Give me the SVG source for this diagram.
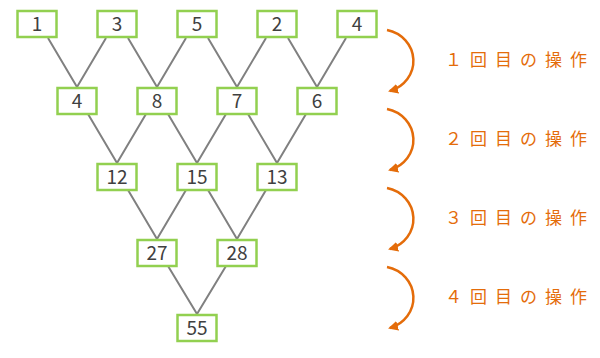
<svg xmlns="http://www.w3.org/2000/svg" width="600" height="358" viewBox="0 0 600 358">
<style>
.box{fill:#fff;stroke:#92d050;stroke-width:2.5}
.num{font-family:"Noto Sans CJK JP","DejaVu Sans",sans-serif;font-size:19px;fill:#404040;text-anchor:middle}
.ln{stroke:#808080;stroke-width:2;fill:none}
.arc{stroke:#e46c0a;stroke-width:2.5;fill:none;marker-end:url(#ah)}
.lbl{font-family:"Noto Sans CJK JP",sans-serif;font-size:17px;fill:#e46c0a;letter-spacing:8px}
</style>
<defs>
<marker id="ah" viewBox="0 0 10 10" refX="8" refY="5" markerWidth="4" markerHeight="4" orient="auto" markerUnits="strokeWidth">
<path d="M0,0 L10,5 L0,10 z" fill="#e46c0a"/>
</marker>
</defs>
<g id="connectors">
<path class="ln" d="M48,38 L77,87 M106,38 L77,87 M128,38 L157,87 M186,38 L157,87 M208,38 L237,87 M266,38 L237,87 M288,38 L317,87 M346,38 L317,87"/>
<path class="ln" d="M88,114 L117,163 M146,114 L117,163 M168,114 L197,163 M226,114 L197,163 M248,114 L277,163 M306,114 L277,163"/>
<path class="ln" d="M128,190 L157,239 M186,190 L157,239 M208,190 L237,239 M266,190 L237,239"/>
<path class="ln" d="M168,266 L197,314 M226,266 L197,314"/>
<path class="arc" d="M387,30 A33,31.5 0 0 1 390,91"/>
<path class="arc" d="M387,109 A33,31.5 0 0 1 390,170"/>
<path class="arc" d="M387,188 A33,31.5 0 0 1 390,249"/>
<path class="arc" d="M387,267 A33,31.5 0 0 1 390,328"/>
</g>
<g id="n1"><rect class="box" x="17.5" y="11" width="39" height="26"/><text class="num" x="37" y="31">1</text></g>
<g id="n3"><rect class="box" x="97.5" y="11" width="39" height="26"/><text class="num" x="117" y="31">3</text></g>
<g id="n5"><rect class="box" x="177.5" y="11" width="39" height="26"/><text class="num" x="197" y="31">5</text></g>
<g id="n2"><rect class="box" x="257.5" y="11" width="39" height="26"/><text class="num" x="277" y="31">2</text></g>
<g id="n4"><rect class="box" x="337.5" y="11" width="39" height="26"/><text class="num" x="357" y="31">4</text></g>
<g id="n4b"><rect class="box" x="57.5" y="88" width="39" height="26"/><text class="num" x="77" y="108">4</text></g>
<g id="n8"><rect class="box" x="137.5" y="88" width="39" height="26"/><text class="num" x="157" y="108">8</text></g>
<g id="n7"><rect class="box" x="217.5" y="88" width="39" height="26"/><text class="num" x="237" y="108">7</text></g>
<g id="n6"><rect class="box" x="297.5" y="88" width="39" height="26"/><text class="num" x="317" y="108">6</text></g>
<g id="n12"><rect class="box" x="97.5" y="164" width="39" height="26"/><text class="num" x="117" y="184">12</text></g>
<g id="n15"><rect class="box" x="177.5" y="164" width="39" height="26"/><text class="num" x="197" y="184">15</text></g>
<g id="n13"><rect class="box" x="257.5" y="164" width="39" height="26"/><text class="num" x="277" y="184">13</text></g>
<g id="n27"><rect class="box" x="137.5" y="240" width="39" height="26"/><text class="num" x="157" y="260">27</text></g>
<g id="n28"><rect class="box" x="217.5" y="240" width="39" height="26"/><text class="num" x="237" y="260">28</text></g>
<g id="n55"><rect class="box" x="177.5" y="315" width="39" height="26"/><text class="num" x="197" y="335">55</text></g>
<g id="labels">
<text class="lbl" x="445" y="66">１回目の操作</text>
<text class="lbl" x="445" y="145">２回目の操作</text>
<text class="lbl" x="445" y="224">３回目の操作</text>
<text class="lbl" x="445" y="303">４回目の操作</text>
</g>
</svg>
